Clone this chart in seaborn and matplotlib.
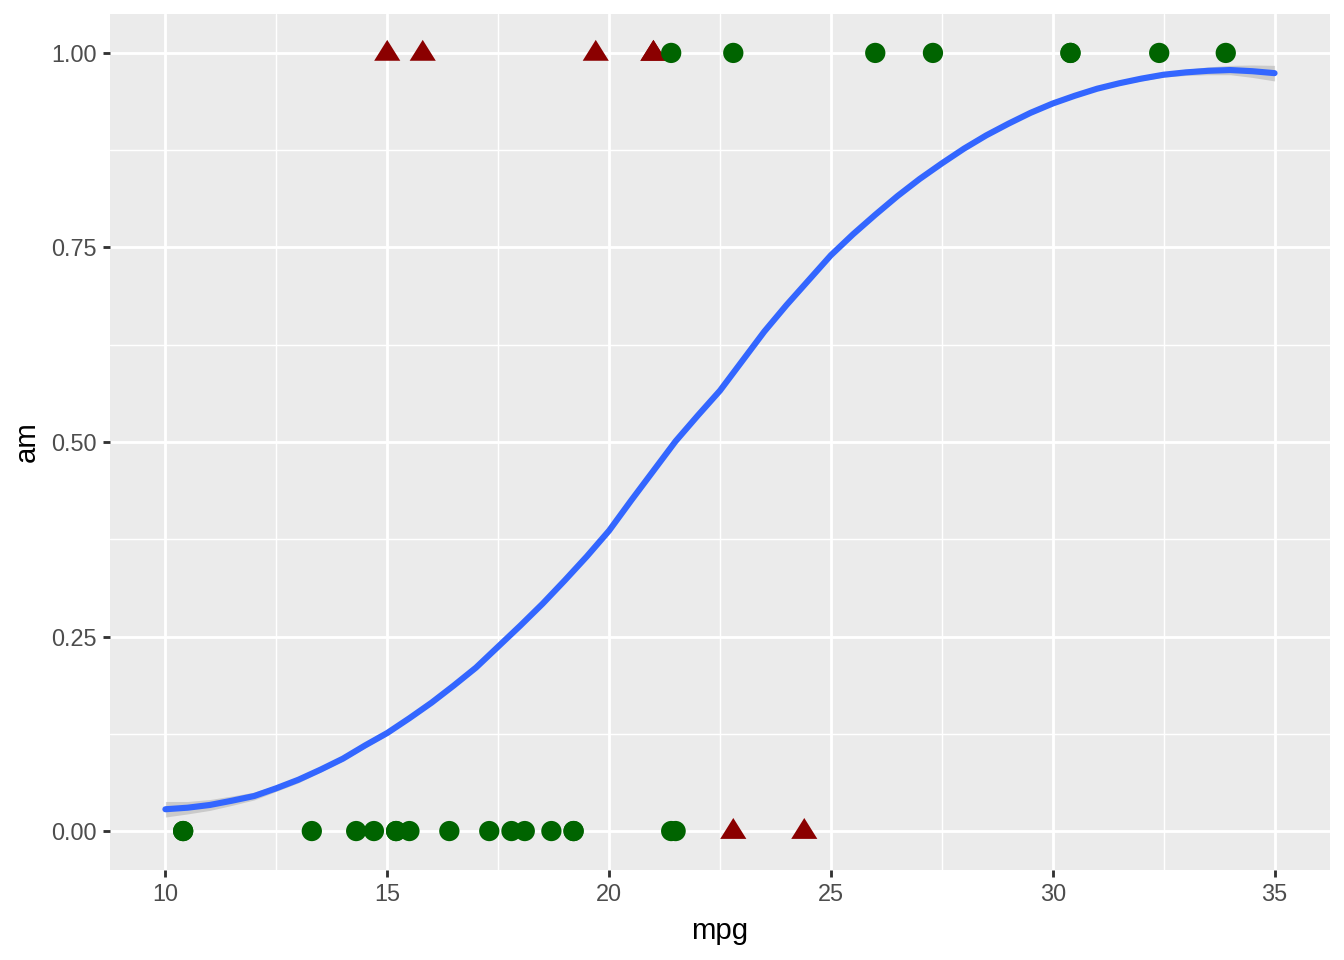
"""
mpg vs am: points by group with a smoothed probability curve (ggplot look).
"""

import matplotlib
matplotlib.use("Agg")
import matplotlib.pyplot as plt
from matplotlib.markers import MarkerStyle
from matplotlib.ticker import MultipleLocator
import pandas as pd
import seaborn as sns

# points drawn as dark red triangles
tri_mpg = [15.0, 15.8, 19.7, 21.0, 21.0, 22.8, 24.4]
tri_am = [1, 1, 1, 1, 1, 0, 0]

# points drawn as green circles
circ_mpg = [21.4, 22.8, 26.0, 27.3, 30.4, 30.4, 32.4, 33.9,
            10.4, 10.4, 13.3, 14.3, 14.7, 15.2, 15.2, 15.5, 16.4,
            17.3, 17.8, 18.1, 18.7, 19.2, 19.2, 21.4, 21.5]
circ_am = [1, 1, 1, 1, 1, 1, 1, 1,
           0, 0, 0, 0, 0, 0, 0, 0, 0,
           0, 0, 0, 0, 0, 0, 0, 0]

# fitted curve (every half mpg)
curve_mpg = [10.0, 10.5, 11.0, 11.5, 12.0, 12.5, 13.0, 13.5, 14.0, 14.5,
             15.0, 15.5, 16.0, 16.5, 17.0, 17.5, 18.0, 18.5, 19.0, 19.5,
             20.0, 20.5, 21.0, 21.5, 22.0, 22.5, 23.0, 23.5, 24.0, 24.5,
             25.0, 25.5, 26.0, 26.5, 27.0, 27.5, 28.0, 28.5, 29.0, 29.5,
             30.0, 30.5, 31.0, 31.5, 32.0, 32.5, 33.0, 33.5, 34.0, 34.5,
             35.0]
curve_fit = [0.028, 0.030, 0.0335, 0.039, 0.045, 0.055, 0.066, 0.079, 0.093, 0.110,
             0.126, 0.145, 0.165, 0.187, 0.210, 0.237, 0.264, 0.292, 0.322, 0.353,
             0.386, 0.425, 0.463, 0.501, 0.534, 0.566, 0.604, 0.642, 0.676, 0.708,
             0.740, 0.767, 0.792, 0.816, 0.838, 0.858, 0.877, 0.894, 0.909, 0.923,
             0.935, 0.945, 0.954, 0.961, 0.967, 0.972, 0.975, 0.977, 0.978, 0.9765,
             0.974]
curve_se = [0.010, 0.008, 0.007, 0.006, 0.005, 0.004, 0.004, 0.003, 0.003, 0.003,
            0.003, 0.002, 0.002, 0.002, 0.002, 0.002, 0.002, 0.002, 0.002, 0.002,
            0.002, 0.002, 0.002, 0.002, 0.002, 0.002, 0.002, 0.002, 0.002, 0.002,
            0.002, 0.002, 0.002, 0.002, 0.002, 0.002, 0.002, 0.002, 0.002, 0.002,
            0.002, 0.002, 0.002, 0.002, 0.003, 0.003, 0.004, 0.005, 0.006, 0.008,
            0.010]

x_ticks = [10, 15, 20, 25, 30, 35]
y_ticks = [0.00, 0.25, 0.50, 0.75, 1.00]


def main():
    sns.set_theme(style="white")
    plt.rcParams["font.family"] = ["Liberation Sans", "DejaVu Sans"]

    tri = pd.DataFrame({"mpg": tri_mpg, "am": tri_am})
    circ = pd.DataFrame({"mpg": circ_mpg, "am": circ_am})
    fit = pd.DataFrame({"mpg": curve_mpg, "am": curve_fit, "se": curve_se})

    fig, ax = plt.subplots(figsize=(7, 5), dpi=192)
    fig.subplots_adjust(left=0.0818, right=0.9896, top=0.9854, bottom=0.0938)
    ax.set_facecolor("#EBEBEB")

    # confidence band + smooth line
    ax.fill_between(fit["mpg"], fit["am"] - fit["se"], fit["am"] + fit["se"],
                    color="#999999", alpha=0.4, linewidth=0, zorder=2)
    sns.lineplot(data=fit, x="mpg", y="am", color="#3366FF", linewidth=2.3,
                 ax=ax, zorder=3)

    tri_marker = MarkerStyle([(0, 1.0), (-1, -0.6), (1, -0.6)])
    sns.scatterplot(data=tri, x="mpg", y="am", marker=tri_marker, s=9.8 ** 2,
                    color="#8B0000", edgecolor="none", linewidth=0, ax=ax,
                    zorder=4)
    sns.scatterplot(data=circ, x="mpg", y="am", marker="o", s=7.6 ** 2,
                    color="#006400", edgecolor="none", linewidth=0, ax=ax,
                    zorder=5)

    ax.set_xlim(8.75, 36.25)
    ax.set_ylim(-0.05, 1.05)
    ax.set_xticks(x_ticks)
    ax.set_yticks(y_ticks)
    ax.set_yticklabels([f"{v:.2f}" for v in y_ticks])
    ax.xaxis.set_minor_locator(MultipleLocator(2.5))
    ax.yaxis.set_minor_locator(MultipleLocator(0.125))

    ax.grid(which="major", color="white", linewidth=1.07)
    ax.grid(which="minor", color="white", linewidth=0.53)
    ax.set_axisbelow(True)
    for s in ax.spines.values():
        s.set_visible(False)

    ax.tick_params(which="major", length=2.75, width=1.07, color="#333333",
                   labelsize=8.8, labelcolor="#4D4D4D", pad=2.2,
                   bottom=True, left=True)
    ax.tick_params(which="minor", length=0, bottom=False, left=False)

    ax.set_xlabel("mpg", fontsize=11, color="black", labelpad=4)
    ax.set_ylabel("am", fontsize=11, color="black", labelpad=4)

    fig.savefig("out.png", dpi=192, facecolor="white")


if __name__ == "__main__":
    main()
